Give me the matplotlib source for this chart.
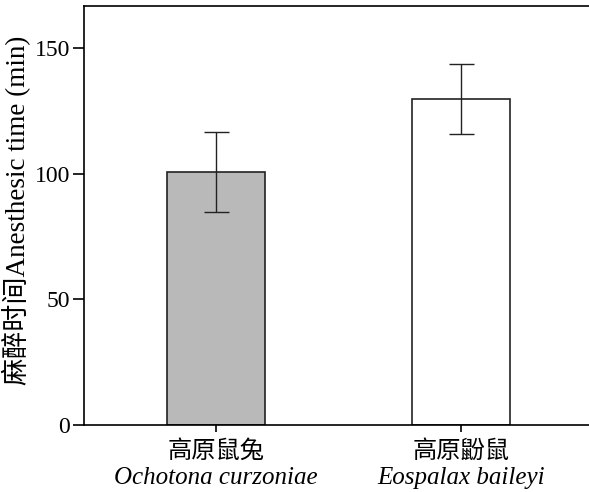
import numpy as np
import matplotlib
matplotlib.use("Agg")
import matplotlib.pyplot as plt

# data
species_cn = ["高原鼠兔", "高原鼢鼠"]
species_latin = ["Ochotona curzoniae", "Eospalax baileyi"]
time_mean = [100.7, 129.7]
time_err = [16.0, 14.0]
bar_colors = ["#b9b9b9", "white"]
yticks = [0, 50, 100, 150]

serif = ["Liberation Serif", "Noto Sans CJK SC"]
plt.rcParams["font.family"] = serif
plt.rcParams["axes.linewidth"] = 1.2

fig = plt.figure(figsize=(5.89, 4.92), dpi=100)
ax = fig.add_axes([84/589, 67/492, 505/589, 419/492])

x = np.arange(len(time_mean))
ax.bar(x, time_mean, width=0.4, color=bar_colors, edgecolor="#222222",
       linewidth=1.2, zorder=2)
ax.errorbar(x, time_mean, yerr=time_err, fmt="none", ecolor="#222222",
            elinewidth=1.0, capsize=9, capthick=1.0, zorder=3)

ax.set_xlim(-0.539, 1.522)
ax.set_ylim(0, 166.7)
ax.set_yticks(yticks)
ax.set_yticklabels([str(v) for v in yticks], fontsize=17)
ax.tick_params(axis="y", length=8, width=1.2, pad=2)
ax.tick_params(axis="x", length=5, width=1.2, pad=6)
ax.spines["right"].set_visible(False)

ax.set_xticks(x)
ax.set_xticklabels(species_cn, fontsize=17.5)
for xi, name in zip(x, species_latin):
    ax.annotate(name, xy=(xi, 0), xycoords=("data", "axes fraction"),
                xytext=(0, -30), textcoords="offset points",
                ha="center", va="top", fontsize=18, style="italic",
                family="Liberation Serif")

ax.set_ylabel("麻醉时间Anesthesic time (min)", fontsize=19.5)
ax.yaxis.set_label_coords(-53/505, 0.513)

fig.savefig("out.png", dpi=100)
